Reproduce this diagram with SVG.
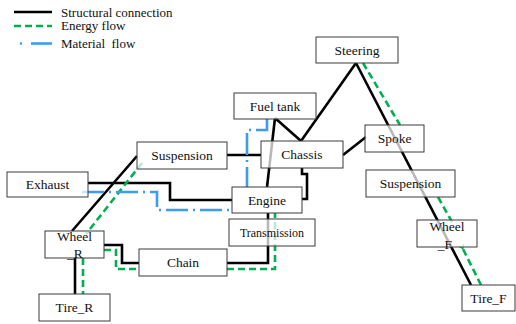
<svg xmlns="http://www.w3.org/2000/svg" width="516" height="324" viewBox="0 0 516 324">
<defs>
<style>
.box{fill:#fff;fill-opacity:0.72;stroke:#3a3a3a;stroke-width:1}
.t{font-family:'Liberation Serif','Times New Roman','DejaVu Serif',serif;font-size:13.5px;fill:#111;text-anchor:middle}
.lg{font-family:'Liberation Serif','Times New Roman','DejaVu Serif',serif;font-size:13px;fill:#111}
.s{fill:none;stroke:#000;stroke-width:2.6;stroke-linejoin:miter}
.e{fill:none;stroke:#00b050;stroke-width:2.6;stroke-dasharray:7 4}
.m{fill:none;stroke:#3d9bf5;stroke-width:2.6;stroke-dasharray:22 5 2 5}
</style>
<marker id="ah" viewBox="0 0 10 10" refX="2" refY="5" markerWidth="6" markerHeight="6" orient="auto" markerUnits="userSpaceOnUse">
<path d="M9,1 L2,5 L9,9" fill="none" stroke="#00b050" stroke-width="2"/>
</marker>
</defs>
<rect width="516" height="324" fill="#fff"/>
<g id="legend">
<line x1="14" y1="12" x2="52" y2="12" class="s"/>
<text x="61" y="16.5" class="lg" font-family="Liberation Serif, DejaVu Serif, serif">Structural connection</text>
<line x1="14" y1="26" x2="52" y2="26" class="e"/>
<text x="61" y="30" class="lg" font-family="Liberation Serif, DejaVu Serif, serif">Energy flow</text>
<line x1="20" y1="43.5" x2="22" y2="43.5" stroke="#3d9bf5" stroke-width="2.6"/>
<line x1="31" y1="43.5" x2="52" y2="43.5" stroke="#3d9bf5" stroke-width="2.6"/>
<text x="61" y="47.5" class="lg" xml:space="preserve" font-family="Liberation Serif, DejaVu Serif, serif">Material  flow</text>
</g>
<g id="connectors">
<path class="s" d="M356,63 L301,141"/>
<path class="s" d="M356,63 L471,285"/>
<path class="s" d="M275,118 L301,141"/>
<path class="s" d="M275,118 L267,187"/>
<path class="s" d="M227,155 H261"/>
<path class="s" d="M343,155 L366,137"/>
<path class="s" d="M302,168 V174 H307 V199 H302"/>
<path class="s" d="M88,183 H170 V200 H232"/>
<path class="s" d="M72,231 L137,156"/>
<path class="s" d="M75,258 V294"/>
<path class="s" d="M104,245 H122 V263 H139"/>
<path class="s" d="M227,263 H268 V213"/>
<path class="e" d="M363,63 L400,125"/>
<path class="e" d="M438,197 L452,222"/>
<path class="e" d="M481,285 L463,249" marker-end="url(#ah)"/>
<path class="e" d="M142,163 L86,234"/>
<path class="e" d="M83,258 V294"/>
<path class="e" d="M104,250 H116 V269 H139"/>
<path class="e" d="M227,269 H275 V213"/>
<path class="m" d="M82,192 H157 V210 H232"/>
<path class="m" d="M267,119 V130 H247 V187"/>
</g>
<g id="steering"><rect class="box" x="316" y="37" width="82" height="26"/><text class="t" x="357" y="54.5">Steering</text></g>
<g id="fuel-tank"><rect class="box" x="234" y="93" width="82" height="26"/><text class="t" x="275" y="110.5">Fuel tank</text></g>
<g id="spoke"><rect class="box" x="365" y="125" width="59" height="27"/><text class="t" x="394.5" y="143">Spoke</text></g>
<g id="chassis"><rect class="box" x="261" y="141" width="82" height="27"/><text class="t" x="302" y="159">Chassis</text></g>
<g id="suspension-r"><rect class="box" x="137" y="142" width="90" height="27"/><text class="t" x="182" y="160">Suspension</text></g>
<g id="exhaust"><rect class="box" x="7" y="172" width="81" height="25"/><text class="t" x="47.5" y="189">Exhaust</text></g>
<g id="engine"><rect class="box" x="232" y="187" width="70" height="26"/><text class="t" x="267" y="204.5">Engine</text></g>
<g id="transmission"><rect class="box" x="229" y="219" width="86" height="27"/><text class="t" x="272" y="237" style="font-size:12px">Transmission</text></g>
<g id="suspension-f"><rect class="box" x="366" y="170" width="89" height="27"/><text class="t" x="410.5" y="188">Suspension</text></g>
<g id="wheel-r"><rect class="box" x="45" y="231" width="59" height="27"/><text class="t" x="74.5" y="240.5">Wheel</text><text class="t" x="75" y="258">_R</text></g>
<g id="chain"><rect class="box" x="139" y="249" width="88" height="27"/><text class="t" x="183" y="267">Chain</text></g>
<g id="wheel-f"><rect class="box" x="417" y="220" width="60" height="27"/><text class="t" x="447" y="231">Wheel</text><text class="t" x="445" y="249">_F</text></g>
<g id="tire-r"><rect class="box" x="39" y="294" width="71" height="27"/><text class="t" x="74.5" y="312">Tire_R</text></g>
<g id="tire-f"><rect class="box" x="462" y="285" width="53" height="26"/><text class="t" x="488.5" y="302.5">Tire_F</text></g>
</svg>
